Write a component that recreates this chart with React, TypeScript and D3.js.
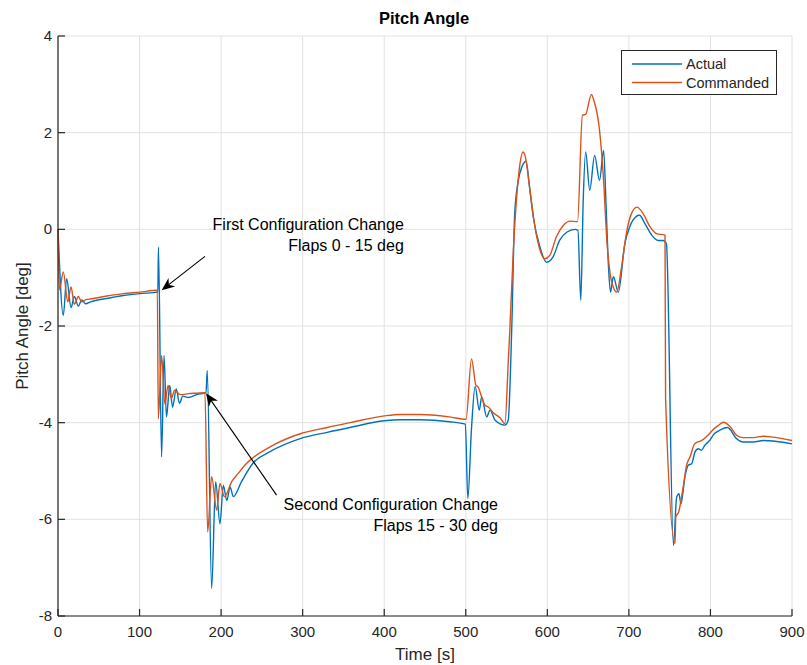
import { useEffect, useRef } from "react";
import * as d3 from "d3";

// Pitch angle history
const actualTime = [
  0, 6.5, 10.6, 16, 20, 25, 29, 34, 40, 60, 80, 100, 122.4,
  123.2, 127, 130, 133, 137, 140.5, 145, 149, 153, 160, 170, 181.5,
  183, 188.4, 193.3, 198.6, 202.7, 207, 211, 215, 225, 239.5, 260, 297, 330, 358,
  400, 420, 444, 480, 499.5, 502.5, 507, 511.5, 516.5, 519.5, 525.6, 529.7, 536, 548,
  552, 556.3, 560, 564.4, 569, 574, 578, 582.7, 591, 599, 607, 615, 623.7, 634, 637.5,
  641, 644, 647, 652, 658, 664, 669, 672, 675, 677.5, 681, 687, 695, 701, 705, 713,
  719.7, 728, 736, 742, 746, 754.6, 758.6, 761.4, 763.8, 768.7, 772.8, 777, 781, 785,
  789, 793, 799, 804.7, 810, 821, 832, 840, 852.5, 865, 877, 900,
];
const actualPitch = [
  0, -1.78, -1.02, -1.62, -1.39, -1.59, -1.46, -1.54, -1.5, -1.43, -1.37, -1.33, -1.3,
  -0.37, -4.71, -2.61, -3.88, -3.23, -3.68, -3.3, -3.6, -3.45, -3.48, -3.42, -3.38,
  -2.92, -7.43, -5.22, -6.09, -5.3, -5.61, -5.33, -5.53, -5.22, -4.83, -4.6, -4.33, -4.2, -4.1,
  -3.96, -3.94, -3.94, -3.98, -4.03, -5.57, -4.12, -3.25, -3.74, -3.47, -3.88, -3.74, -3.95, -4.05,
  -3.95, -2.09, 0.33, 1.01, 1.3, 1.41, 0.9, 0.26, -0.37, -0.68, -0.57, -0.23, -0.06, 0.0, -0.02,
  -1.47, 0.6, 1.6, 0.81, 1.53, 1.01, 1.63, 0.5, -0.78, -1.3, -0.98, -1.3, -0.3, 0.05, 0.19, 0.29,
  0.12, -0.12, -0.23, -0.23, -0.3, -6.54, -5.54, -5.47, -5.68, -5.12, -4.88, -4.85, -4.61, -4.54,
  -4.57, -4.47, -4.37, -4.23, -4.17, -4.1, -4.33, -4.4, -4.4, -4.37, -4.38, -4.44,
];
const commandedTime = [
  0, 1.8, 6.5, 12, 16, 20, 25, 29, 35, 40, 60, 80, 100, 121.8,
  123, 127, 131, 135, 139, 143, 150, 160, 170, 180.2,
  183.5, 188.4, 194.5, 198.6, 204, 213, 221, 229, 239.5, 260, 297, 330, 358,
  400, 420, 444, 480, 500.3, 507, 512.5, 515, 519.5, 523.5, 528, 534, 542, 548,
  552, 554, 558.5, 562.4, 566.5, 570, 572.6, 578.7, 584.8, 591, 597, 603, 611, 619.5, 628, 637,
  643, 647, 654, 657, 664, 669, 673, 677, 681, 685, 691, 697, 703, 710,
  717.6, 726, 734, 744.3, 745, 756.6, 757.5, 761, 766.6, 770.8, 774.9, 781,
  789, 797, 803.4, 809.6, 816, 825, 832, 840, 852.5, 865, 877, 900,
];
const commandedPitch = [
  0, -1.25, -0.88, -1.5, -1.19, -1.55, -1.39, -1.5, -1.45, -1.44, -1.38, -1.33, -1.3, -1.26,
  -3.92, -2.61, -3.61, -3.23, -3.5, -3.33, -3.42, -3.4, -3.39, -3.38,
  -6.26, -5.12, -5.81, -5.26, -5.53, -5.22, -5.05, -4.88, -4.72, -4.5, -4.23, -4.1, -4.0,
  -3.86, -3.83, -3.83, -3.88, -3.93, -2.68, -3.23, -3.26, -3.47, -3.64, -3.68, -3.8, -3.9, -4.02,
  -2.78, -2.09, -0.37, 0.67, 1.36, 1.6, 1.53, 0.81, 0.05, -0.43, -0.61, -0.54, -0.16, 0.08, 0.17, 0.16,
  2.36, 2.38, 2.79, 2.67, 2.05, 1.01, -0.23, -0.92, -1.2, -1.3, -0.78, -0.08, 0.32, 0.46,
  0.32, 0.05, -0.09, -0.12, -3.5, -6.5, -5.95, -5.85, -5.33, -4.88, -4.71, -4.43,
  -4.37, -4.26, -4.14, -4.06, -3.99, -4.1, -4.26, -4.31, -4.31, -4.28, -4.3, -4.37,
];

const xTicks = [0, 100, 200, 300, 400, 500, 600, 700, 800, 900];
const yTicks = [-8, -6, -4, -2, 0, 2, 4];
const seriesNames = ["Actual", "Commanded"];
const seriesColors = ["#0072BD", "#D95319"];

// annotations (data coordinates)
const noteLines = [
  ["First Configuration Change", "Flaps 0 - 15 deg"],
  ["Second Configuration Change", "Flaps 15 - 30 deg"],
];
const noteAnchor = [[424, 0.1], [539.5, -5.71]];
const arrowTail = [[180.2, -0.56], [268, -5.5]];
const arrowTip = [[127.1, -1.26], [181.5, -3.39]];

const FONT = "'Liberation Sans', Arial, Helvetica, sans-serif";

export default function App() {
  const ref = useRef<SVGSVGElement>(null);

  useEffect(() => {
    if (!ref.current) return;
    const W = 807;
    const H = 665;
    const margin = { top: 36, right: 15, bottom: 49, left: 58 };

    const svg = d3.select(ref.current);
    svg.selectAll("*").remove();

    const x = d3.scaleLinear().domain([0, 900]).range([margin.left, W - margin.right]);
    const y = d3.scaleLinear().domain([-8, 4]).range([H - margin.bottom, margin.top]);

    svg.append("rect").attr("width", W).attr("height", H).attr("fill", "#fff");

    // grid
    const grid = svg.append("g").attr("stroke", "#e2e2e2").attr("stroke-width", 1);
    xTicks.forEach(t => {
      grid.append("line")
        .attr("x1", x(t)).attr("x2", x(t))
        .attr("y1", y(-8)).attr("y2", y(4));
    });
    yTicks.forEach(t => {
      grid.append("line")
        .attr("x1", x(0)).attr("x2", x(900))
        .attr("y1", y(t)).attr("y2", y(t));
    });

    // series
    const series = [
      { t: actualTime, v: actualPitch },
      { t: commandedTime, v: commandedPitch },
    ];
    series.forEach((s, k) => {
      const line = d3.line<number>()
        .x((_, i) => x(s.t[i]))
        .y(d => y(d))
        .curve(d3.curveMonotoneX);
      svg.append("path")
        .datum(s.v)
        .attr("fill", "none")
        .attr("stroke", seriesColors[k])
        .attr("stroke-width", 1.4)
        .attr("stroke-linejoin", "round")
        .attr("d", line);
    });

    // axes
    const axis = svg.append("g").attr("stroke", "#262626").attr("stroke-width", 1.2);
    axis.append("line").attr("x1", x(0)).attr("x2", x(0)).attr("y1", y(-8)).attr("y2", y(4));
    axis.append("line").attr("x1", x(0)).attr("x2", x(900)).attr("y1", y(-8)).attr("y2", y(-8));
    xTicks.forEach(t => {
      axis.append("line").attr("x1", x(t)).attr("x2", x(t)).attr("y1", y(-8)).attr("y2", y(-8) - 7);
    });
    yTicks.forEach(t => {
      axis.append("line").attr("x1", x(0)).attr("x2", x(0) + 7).attr("y1", y(t)).attr("y2", y(t));
    });

    const labels = svg.append("g").attr("font-family", FONT).attr("fill", "#262626");
    xTicks.forEach(t => {
      labels.append("text")
        .attr("x", x(t)).attr("y", y(-8) + 21)
        .attr("text-anchor", "middle")
        .attr("font-size", 15)
        .text(String(t));
    });
    yTicks.forEach(t => {
      labels.append("text")
        .attr("x", x(0) - 6).attr("y", y(t) + 5)
        .attr("text-anchor", "end")
        .attr("font-size", 15)
        .text(String(t));
    });

    labels.append("text")
      .attr("x", (x(0) + x(900)) / 2).attr("y", 660)
      .attr("text-anchor", "middle")
      .attr("font-size", 17)
      .text("Time [s]");

    labels.append("text")
      .attr("transform", `translate(28,${(y(-8) + y(4)) / 2}) rotate(-90)`)
      .attr("text-anchor", "middle")
      .attr("font-size", 17)
      .text("Pitch Angle [deg]");

    labels.append("text")
      .attr("x", (x(0) + x(900)) / 2 - 1).attr("y", 24)
      .attr("text-anchor", "middle")
      .attr("font-size", 16.5)
      .attr("font-weight", "bold")
      .attr("fill", "#000")
      .text("Pitch Angle");

    // annotations
    const notes = svg.append("g").attr("font-family", FONT);
    noteLines.forEach((lines, k) => {
      const [tx, ty] = noteAnchor[k];
      lines.forEach((txt, j) => {
        notes.append("text")
          .attr("x", x(tx))
          .attr("y", y(ty) + 5 + j * 21)
          .attr("text-anchor", "end")
          .attr("font-size", 16)
          .attr("fill", "#000")
          .text(txt);
      });
      const x0 = x(arrowTail[k][0]);
      const y0 = y(arrowTail[k][1]);
      const x1 = x(arrowTip[k][0]);
      const y1 = y(arrowTip[k][1]);
      const len = Math.hypot(x1 - x0, y1 - y0);
      const ux = (x1 - x0) / len;
      const uy = (y1 - y0) / len;
      const nx = -uy;
      const ny = ux;
      const L = 13;
      const Wd = 5.5;
      notes.append("line")
        .attr("x1", x0).attr("y1", y0)
        .attr("x2", x1 - ux * L * 0.6).attr("y2", y1 - uy * L * 0.6)
        .attr("stroke", "#000").attr("stroke-width", 1.1);
      const pts = [
        [x1, y1],
        [x1 - ux * L + nx * Wd, y1 - uy * L + ny * Wd],
        [x1 - ux * L * 0.7, y1 - uy * L * 0.7],
        [x1 - ux * L - nx * Wd, y1 - uy * L - ny * Wd],
      ];
      notes.append("polygon")
        .attr("points", pts.map(p => p.join(",")).join(" "))
        .attr("fill", "#000");
    });

    // legend
    const lg = svg.append("g").attr("font-family", FONT);
    lg.append("rect")
      .attr("x", 621.5).attr("y", 50.5)
      .attr("width", 155).attr("height", 44)
      .attr("fill", "#fff")
      .attr("stroke", "#262626")
      .attr("stroke-width", 1);
    seriesNames.forEach((name, k) => {
      const ly = 64 + k * 18.5;
      lg.append("line")
        .attr("x1", 632).attr("x2", 682)
        .attr("y1", ly).attr("y2", ly)
        .attr("stroke", seriesColors[k])
        .attr("stroke-width", 1.4);
      lg.append("text")
        .attr("x", 686).attr("y", ly + 5)
        .attr("font-size", 14.5)
        .attr("fill", "#262626")
        .text(name);
    });
  }, []);

  return (
    <svg
      ref={ref}
      width={807}
      height={665}
      style={{ position: "absolute", left: 0, top: 0 }}
    />
  );
}
